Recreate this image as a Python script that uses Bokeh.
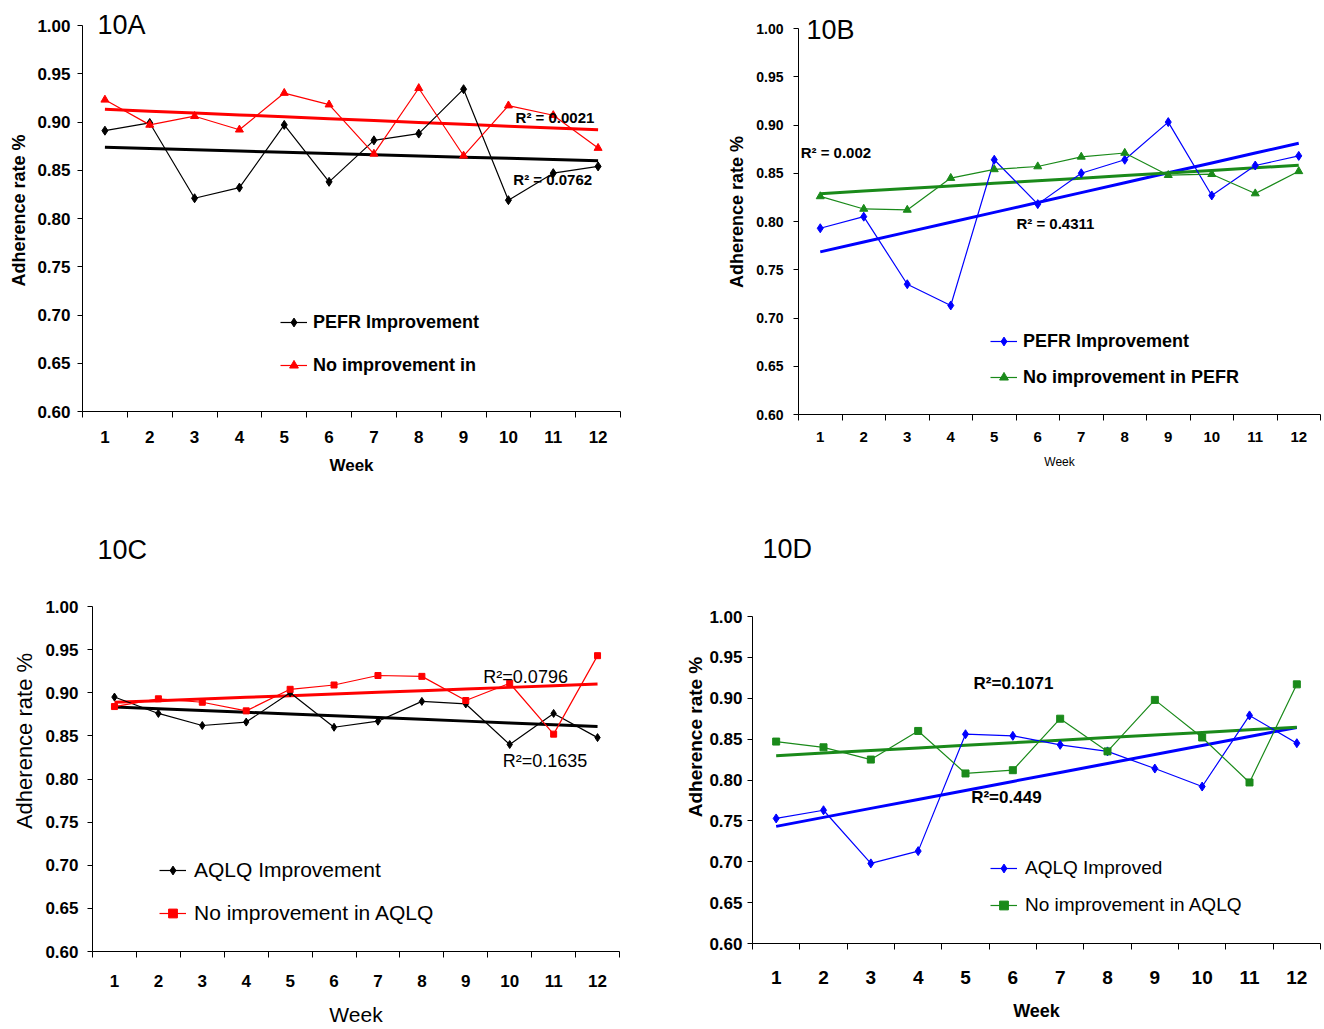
import numpy as np
from bokeh.plotting import figure
from bokeh.models import Range1d, FixedTicker, Label, Legend, LegendItem, PrintfTickFormatter
from bokeh.layouts import column, row
from bokeh.embed import file_html
from bokeh.resources import INLINE

# ---------------- data ----------------
weeks = [1, 2, 3, 4, 5, 6, 7, 8, 9, 10, 11, 12]
y_ticks = [0.60, 0.65, 0.70, 0.75, 0.80, 0.85, 0.90, 0.95, 1.00]

# 10A
a_pefr_improvement = [0.891, 0.899, 0.821, 0.832, 0.897, 0.838, 0.881, 0.888, 0.934, 0.819, 0.847, 0.854]
a_no_improvement = [0.923, 0.897, 0.906, 0.892, 0.930, 0.918, 0.867, 0.935, 0.865, 0.917, 0.907, 0.873]
# 10B
b_pefr_improvement = [0.793, 0.805, 0.735, 0.713, 0.864, 0.818, 0.850, 0.864, 0.903, 0.827, 0.858, 0.868]
b_no_improvement = [0.826, 0.813, 0.812, 0.845, 0.854, 0.857, 0.867, 0.871, 0.848, 0.849, 0.829, 0.852]
# 10C
c_aqlq_improvement = [0.895, 0.876, 0.862, 0.866, 0.900, 0.860, 0.867, 0.890, 0.887, 0.840, 0.876, 0.848]
c_no_improvement = [0.884, 0.893, 0.889, 0.879, 0.904, 0.909, 0.920, 0.919, 0.891, 0.911, 0.852, 0.943]
# 10D
d_aqlq_improved = [0.753, 0.763, 0.698, 0.713, 0.856, 0.854, 0.843, 0.835, 0.814, 0.792, 0.879, 0.845]
d_no_improvement = [0.847, 0.840, 0.825, 0.860, 0.808, 0.812, 0.875, 0.835, 0.898, 0.852, 0.797, 0.917]

FONT = "Liberation Sans"
RED = "#ff0000"
BLUE = "#0000ff"
GREEN = "#1a8a1a"
BLACK = "#000000"


def trend(vals):
    k, b = np.polyfit(weeks, vals, 1)
    return [k * w + b for w in weeks]


def panel(cfg):
    p = figure(frame_width=cfg["fw"], frame_height=cfg["fh"],
               min_border_left=cfg["bl"], min_border_right=cfg["br"],
               min_border_top=cfg["bt"], min_border_bottom=cfg["bb"],
               x_range=Range1d(0.5, 12.5), y_range=Range1d(0.6, cfg["ytop"]),
               output_backend="svg", toolbar_location=None)
    p.xgrid.visible = False
    p.ygrid.visible = False
    p.outline_line_color = None
    p.background_fill_color = "white"
    p.border_fill_color = "white"

    xa = p.xaxis[0]
    xa.ticker = FixedTicker(ticks=weeks, minor_ticks=[w - 0.5 for w in weeks] + [12.5])
    xa.major_tick_out = 0
    xa.major_tick_in = 0
    xa.minor_tick_out = 6
    xa.minor_tick_in = 0
    xa.minor_tick_line_color = BLACK
    xa.axis_line_color = BLACK
    xa.major_label_text_font = FONT
    xa.major_label_text_font_style = "bold"
    xa.major_label_text_font_size = cfg["xtick_fs"]
    xa.major_label_text_color = BLACK
    xa.major_label_standoff = cfg["xtick_so"]
    xa.axis_label = "Week"
    xa.axis_label_text_font = FONT
    xa.axis_label_text_font_style = cfg["xlab_style"]
    xa.axis_label_text_font_size = cfg["xlab_fs"]
    xa.axis_label_text_color = BLACK
    xa.axis_label_standoff = cfg["xlab_so"]

    ya = p.yaxis[0]
    ya.ticker = FixedTicker(ticks=y_ticks, minor_ticks=[])
    ya.formatter = PrintfTickFormatter(format="%.2f")
    ya.bounds = (0.6, 1.0)
    ya.major_tick_out = 5
    ya.major_tick_in = 0
    ya.major_tick_line_color = BLACK
    ya.axis_line_color = BLACK
    ya.major_label_text_font = FONT
    ya.major_label_text_font_style = "bold"
    ya.major_label_text_font_size = cfg["ytick_fs"]
    ya.major_label_text_color = BLACK
    ya.major_label_standoff = cfg["ytick_so"]
    ya.axis_label = "Adherence rate %"
    ya.axis_label_text_font = FONT
    ya.axis_label_text_font_style = cfg["ylab_style"]
    ya.axis_label_text_font_size = cfg["ylab_fs"]
    ya.axis_label_text_color = BLACK
    ya.axis_label_standoff = cfg["ylab_so"]

    items = []
    for vals, color, marker, msize, label in cfg["series"]:
        p.line(weeks, trend(vals), line_color=color, line_width=3)
    for vals, color, marker, msize, label in cfg["series"]:
        ln = p.line(weeks, vals, line_color=color, line_width=1.2)
        sc = p.scatter(weeks, vals, marker=marker, size=msize, fill_color=color, line_color=color)
        items.append(LegendItem(label=label, renderers=[ln, sc]))

    lg = Legend(items=items, location=cfg["leg_loc"], orientation="vertical",
                padding=0, margin=0, border_line_alpha=0, background_fill_alpha=0,
                glyph_width=27, glyph_height=22, label_height=22,
                label_standoff=cfg["leg_so"], spacing=cfg["leg_sp"],
                label_text_font=FONT, label_text_font_size=cfg["leg_fs"],
                label_text_font_style=cfg["leg_style"], label_text_color=BLACK)
    p.add_layout(lg)

    p.add_layout(Label(x=cfg["title_xy"][0], y=cfg["title_xy"][1], text=cfg["title"],
                       text_font=FONT, text_font_size="27px", text_color=BLACK,
                       text_baseline="middle", text_align="left"))
    for (tx, ty, t) in cfg["r2"]:
        p.add_layout(Label(x=tx, y=ty, text=t, text_font=FONT,
                           text_font_size=cfg["r2_fs"], text_font_style=cfg["r2_style"],
                           text_color=BLACK, text_baseline="middle", text_align="left"))
    return p


pA = panel(dict(
    fw=538, fh=402, ytop=0.6 + 402 * 0.4 / 386, bl=82, br=40, bt=9, bb=87,
    xtick_fs="17px", xtick_so=13, xlab_style="bold", xlab_fs="17px", xlab_so=10,
    ytick_fs="17px", ytick_so=7, ylab_style="bold", ylab_fs="18px", ylab_so=5,
    series=[(a_pefr_improvement, BLACK, "diamond", 9, "PEFR Improvement"),
            (a_no_improvement, RED, "triangle", 8, "No improvement in")],
    leg_loc=(198, 35), leg_so=6, leg_sp=21, leg_fs="18px", leg_style="bold",
    title="10A", title_xy=(0.835, 1.001),
    r2=[(10.16, 0.9047, "R² = 0.0021"), (10.11, 0.8404, "R² = 0.0762")],
    r2_fs="15px", r2_style="bold"))

pB = panel(dict(
    fw=522, fh=405, ytop=0.6 + 405 * 0.4 / 386, bl=138, br=2, bt=9, bb=84,
    xtick_fs="15px", xtick_so=11, xlab_style="normal", xlab_fs="12px", xlab_so=10,
    ytick_fs="14px", ytick_so=10, ylab_style="bold", ylab_fs="18px", ylab_so=6,
    series=[(b_pefr_improvement, BLUE, "diamond", 9, "PEFR Improvement"),
            (b_no_improvement, GREEN, "triangle", 8, "No improvement in PEFR")],
    leg_loc=(192, 26), leg_so=6, leg_sp=14, leg_fs="18px", leg_style="bold",
    title="10B", title_xy=(0.686, 0.998),
    r2=[(0.55, 0.8715, "R² = 0.002"), (5.51, 0.798, "R² = 0.4311")],
    r2_fs="15px", r2_style="bold"))

pC = panel(dict(
    fw=527, fh=421, ytop=0.6 + 421 * 0.4 / 345, bl=92, br=41, bt=32, bb=77,
    xtick_fs="17px", xtick_so=17, xlab_style="normal", xlab_fs="21px", xlab_so=13,
    ytick_fs="17px", ytick_so=9, ylab_style="normal", ylab_fs="22px", ylab_so=5,
    series=[(c_aqlq_improvement, BLACK, "diamond", 8, "AQLQ Improvement"),
            (c_no_improvement, RED, "square", 6, "No improvement in AQLQ")],
    leg_loc=(67, 26), leg_so=8, leg_sp=19, leg_fs="21px", leg_style="normal",
    title="10C", title_xy=(0.614, 1.066),
    r2=[(9.40, 0.9177, "R²=0.0796"), (9.84, 0.8214, "R²=0.1635")],
    r2_fs="18px", r2_style="normal"))

pD = panel(dict(
    fw=568, fh=413, ytop=0.6 + 413 * 0.4 / 327, bl=92, br=2, bt=32, bb=85,
    xtick_fs="19px", xtick_so=21, xlab_style="bold", xlab_fs="18px", xlab_so=14,
    ytick_fs="17px", ytick_so=5, ylab_style="bold", ylab_fs="19px", ylab_so=0,
    series=[(d_aqlq_improved, BLUE, "diamond", 9, "AQLQ Improved"),
            (d_no_improvement, GREEN, "square", 7, "No improvement in AQLQ")],
    leg_loc=(238, 27), leg_so=8, leg_sp=15, leg_fs="19px", leg_style="normal",
    title="10D", title_xy=(0.713, 1.082),
    r2=[(5.17, 0.918, "R²=0.1071"), (5.12, 0.779, "R²=0.449")],
    r2_fs="17px", r2_style="bold"))

layout = column(row(pA, pB), row(pC, pD))
open("out.html", "w").write(file_html(layout, INLINE))
